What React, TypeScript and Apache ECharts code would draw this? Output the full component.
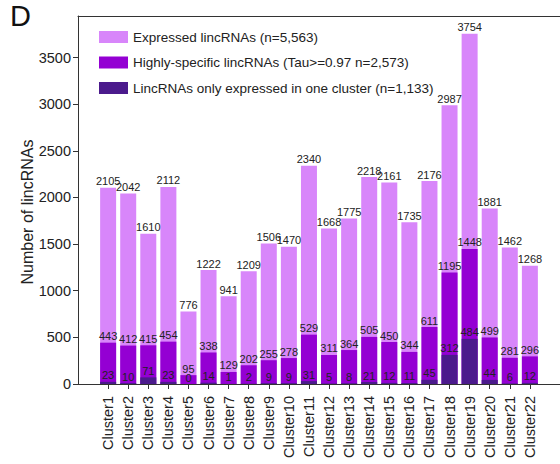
import React, { useEffect, useRef } from "react";
import * as echarts from "echarts";

const clusters = [
  "Cluster1", "Cluster2", "Cluster3", "Cluster4", "Cluster5", "Cluster6", "Cluster7", "Cluster8",
  "Cluster9", "Cluster10", "Cluster11", "Cluster12", "Cluster13", "Cluster14", "Cluster15",
  "Cluster16", "Cluster17", "Cluster18", "Cluster19", "Cluster20", "Cluster21", "Cluster22",
];
const expressed = [2105, 2042, 1610, 2112, 776, 1222, 941, 1209, 1506, 1470, 2340, 1668, 1775, 2218, 2161, 1735, 2176, 2987, 3754, 1881, 1462, 1268];
const highlySpecific = [443, 412, 415, 454, 95, 338, 129, 202, 255, 278, 529, 311, 364, 505, 450, 344, 611, 1195, 1448, 499, 281, 296];
const oneCluster = [23, 10, 71, 23, 0, 14, 1, 2, 9, 9, 31, 5, 8, 21, 12, 11, 45, 312, 484, 44, 6, 12];
const seriesNames = [
  "Expressed lincRNAs (n=5,563)",
  "Highly-specific lincRNAs (Tau>=0.97 n=2,573)",
  "LincRNAs only expressed in one cluster (n=1,133)",
];
const colors = ["#D886FA", "#9400D3", "#4B1A8C"];

const FONT = "'Liberation Sans', Arial, sans-serif";

export default function App() {
  const ref = useRef<HTMLDivElement>(null);
  useEffect(() => {
    if (!ref.current) return;
    const chart = echarts.init(ref.current, undefined, { renderer: "svg" });
    const cats = ["", ...clusters, ""];
    const pad = (a: number[]) => [null, ...a, null];
    const dataSets = [expressed, highlySpecific, oneCluster];
    chart.setOption({
      animation: false,
      textStyle: { fontFamily: FONT },
      grid: { left: 78, right: -4, top: 16, bottom: 80, containLabel: false },
      legend: {
        orient: "vertical",
        left: 94,
        top: 25,
        itemWidth: 29,
        itemHeight: 12,
        itemGap: 11.5,
        icon: "rect",
        textStyle: { fontSize: 13.5, color: "#222", fontFamily: FONT },
        data: seriesNames,
      },
      xAxis: [
        {
          type: "category",
          data: cats,
          axisLine: { show: true, lineStyle: { color: "#333", width: 1 } },
          axisTick: {
            show: true,
            alignWithLabel: true,
            length: 5,
            lineStyle: { color: "#333" },
            interval: (i: number, v: string) => v !== "",
          },
          axisLabel: { rotate: 90, fontSize: 14.5, color: "#222", margin: 12, interval: 0, fontFamily: FONT },
        },
        {
          type: "category",
          data: cats,
          position: "top",
          axisLine: { show: true, lineStyle: { color: "#333", width: 1 } },
          axisTick: { show: false },
          axisLabel: { show: false },
        },
      ],
      yAxis: {
        type: "value",
        min: 0,
        max: 3945,
        interval: 500,
        splitLine: { show: false },
        axisLine: { show: true, lineStyle: { color: "#333", width: 1 } },
        axisTick: { show: true, length: 5, lineStyle: { color: "#333" } },
        axisLabel: {
          fontSize: 14.5,
          color: "#222",
          margin: 7,
          fontFamily: FONT,
          showMaxLabel: false,
          formatter: (v: number) => String(v),
        },
      },
      graphic: [
        {
          type: "text",
          left: 10,
          top: 1,
          style: { text: "D", fontSize: 29, fill: "#111", fontFamily: FONT },
        },
        {
          type: "text",
          x: 27,
          y: 212,
          rotation: Math.PI / 2,
          style: {
            text: "Number of lincRNAs",
            fontSize: 16,
            fill: "#222",
            fontFamily: FONT,
            align: "center",
            verticalAlign: "middle",
          },
        },
      ],
      series: dataSets.map((d, i) => ({
        type: "bar",
        name: seriesNames[i],
        data: pad(d),
        barWidth: 16,
        barGap: "-100%",
        itemStyle: { color: colors[i] },
        label: {
          show: true,
          position: "top",
          distance: 1,
          fontSize: 11,
          color: "#222",
          fontFamily: FONT,
        },
        z: 2 + i,
      })),
    });
    return () => chart.dispose();
  }, []);
  return (
    <div
      ref={ref}
      style={{ position: "fixed", left: 0, top: 0, width: 560, height: 464, background: "#fff" }}
    />
  );
}
